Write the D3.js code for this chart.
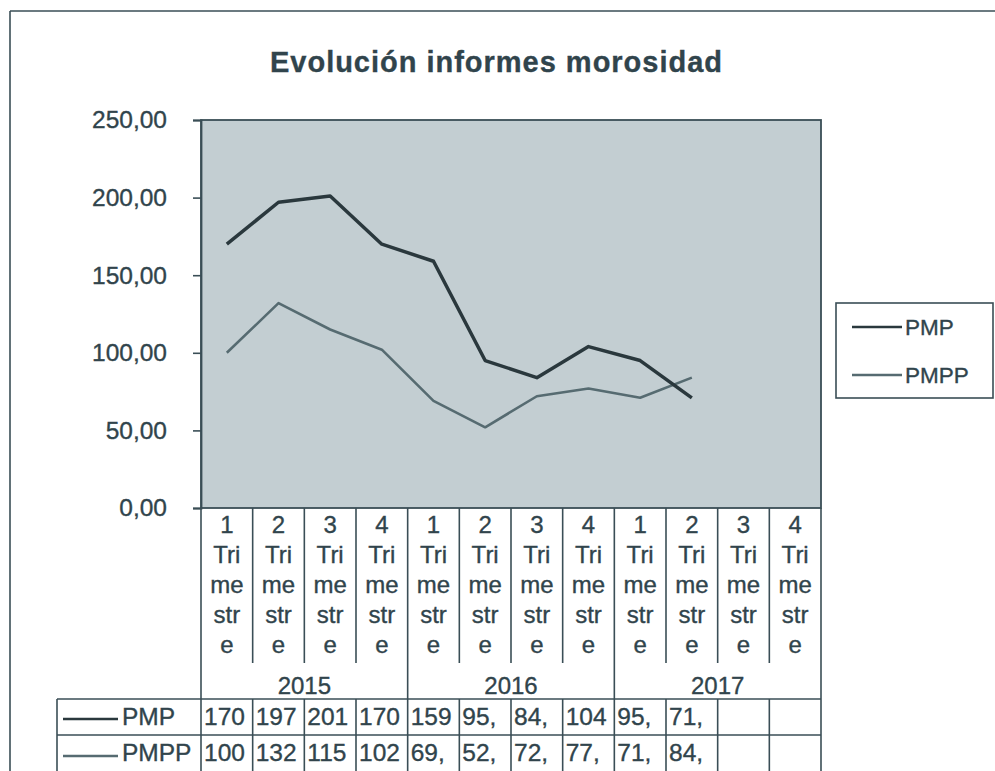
<!DOCTYPE html>
<html><head><meta charset="utf-8">
<script src="https://cdn.jsdelivr.net/npm/d3@7"></script>
<style>
html,body{margin:0;padding:0;background:#fff;}
svg{display:block;font-family:"Liberation Sans",Arial,sans-serif;}
svg text{stroke:#34464d;stroke-width:0.35px;}
</style></head>
<body>
<svg id="chart" width="995" height="771"></svg>
<script>
const title = "Evolución informes morosidad";
const quarters = ["1","2","3","4","1","2","3","4","1","2","3","4"];
const years = ["2015","2016","2017"];
const seriesNames = ["PMP","PMPP"];
const pmp  = [170,197,201,170,159,95,84,104,95,71];
const pmpp = [100,132,115,102,69,52,72,77,71,84];
const pmpLabels  = ["170","197","201","170","159","95,","84,","104","95,","71,","",""];
const pmppLabels = ["100","132","115","102","69,","52,","72,","77,","71,","84,","",""];
const yTicks = [0,50,100,150,200,250];

(function(){
const textCol = "#30444c", lineCol = "#3a4e56";
const svg = d3.select("#chart");

// outer frame
svg.append("line").attr("x1",10).attr("x2",10).attr("y1",11).attr("y2",771).attr("stroke",lineCol).attr("stroke-width",1.6);
svg.append("line").attr("x1",10).attr("x2",995).attr("y1",11).attr("y2",11).attr("stroke",lineCol).attr("stroke-width",1.6);

// title
svg.append("text").attr("x",496).attr("y",72).attr("text-anchor","middle")
  .attr("font-size",29).attr("font-weight","bold").attr("fill",textCol)
  .attr("textLength",452).attr("lengthAdjust","spacing").text(title);

const pL = 201, pR = 821, pT = 120, pB = 508;
const idx = d3.range(quarters.length);
const x = d3.scaleBand().domain(idx).range([pL,pR]);
const y = d3.scaleLinear().domain([0,250]).range([pB,pT]);

// plot area
svg.append("rect").attr("x",pL).attr("y",pT).attr("width",pR-pL).attr("height",pB-pT)
  .attr("fill","#c3ced2").attr("stroke",lineCol).attr("stroke-width",1.8);

// y axis
const yAxis = d3.axisLeft(y).tickValues(yTicks).tickSize(8).tickPadding(26)
  .tickFormat(d => d3.format(".2f")(d).replace(".",","));
const gy = svg.append("g").attr("transform",`translate(${pL},0)`).call(yAxis);
gy.select(".domain").attr("stroke",lineCol).attr("stroke-width",1.8);
gy.selectAll(".tick line").attr("stroke",lineCol).attr("stroke-width",1.6);
gy.selectAll(".tick text").attr("font-size",24.5).attr("fill",textCol).attr("font-family","Liberation Sans, Arial, sans-serif");

// lines
const line = d3.line().x((d,i)=>x(i)+x.bandwidth()/2).y(d=>y(d));
svg.append("path").datum(pmpp).attr("d",line).attr("fill","none").attr("stroke","#566b71").attr("stroke-width",2.6).attr("stroke-linejoin","round");
svg.append("path").datum(pmp).attr("d",line).attr("fill","none").attr("stroke","#2a383d").attr("stroke-width",3.5).attr("stroke-linejoin","round");

// category labels
const catLines = ["Tri","me","str","e"];
idx.forEach(i=>{
  const cx = x(i)+x.bandwidth()/2;
  const t = svg.append("text").attr("text-anchor","middle").attr("font-size",24).attr("fill",textCol);
  [quarters[i]].concat(catLines).forEach((s,k)=>{
    t.append("tspan").attr("x",cx).attr("y",533+k*30).text(s);
  });
});

// table grid
const g = svg.append("g").attr("stroke",lineCol).attr("stroke-width",1.6);
idx.forEach(i=>{
  if(i>0 && i%4!==0){
    g.append("line").attr("x1",x(i)).attr("x2",x(i)).attr("y1",pB).attr("y2",663);
    g.append("line").attr("x1",x(i)).attr("x2",x(i)).attr("y1",699).attr("y2",771);
  }
});
[0,4,8].forEach(i=>g.append("line").attr("x1",x(i)).attr("x2",x(i)).attr("y1",pB).attr("y2",771));
g.append("line").attr("x1",pR).attr("x2",pR).attr("y1",pB).attr("y2",771);
g.append("line").attr("x1",57).attr("x2",57).attr("y1",699).attr("y2",771);
g.append("line").attr("x1",57).attr("x2",pR).attr("y1",699).attr("y2",699);
g.append("line").attr("x1",57).attr("x2",pR).attr("y1",735).attr("y2",735);

// year labels
years.forEach((yr,j)=>{
  const cx = (x(j*4) + x(j*4+3)+x.bandwidth())/2;
  svg.append("text").attr("x",cx).attr("y",694).attr("text-anchor","middle").attr("font-size",24).attr("fill",textCol).text(yr);
});

// table rows
const rows = [{name:seriesNames[0],labels:pmpLabels,col:"#2a383d",yb:725,ly:719},
              {name:seriesNames[1],labels:pmppLabels,col:"#566b71",yb:761,ly:756}];
rows.forEach(r=>{
  svg.append("line").attr("x1",63).attr("x2",118).attr("y1",r.ly).attr("y2",r.ly).attr("stroke",r.col).attr("stroke-width",2.6);
  svg.append("text").attr("x",122).attr("y",r.yb).attr("font-size",24.5).attr("fill",textCol).text(r.name);
  r.labels.forEach((s,i)=>{
    svg.append("text").attr("x",x(i)+3).attr("y",r.yb).attr("font-size",24.5).attr("fill",textCol).text(s);
  });
});

// legend
const lg = svg.append("g");
lg.append("rect").attr("x",836).attr("y",303).attr("width",157).attr("height",95).attr("fill","#fff").attr("stroke",lineCol).attr("stroke-width",1.6);
[[seriesNames[0],"#2a383d",327],[seriesNames[1],"#566b71",375]].forEach(([n,c,yy])=>{
  lg.append("line").attr("x1",852).attr("x2",902).attr("y1",yy).attr("y2",yy).attr("stroke",c).attr("stroke-width",2.6);
  lg.append("text").attr("x",905).attr("y",yy+8).attr("font-size",22.5).attr("fill",textCol).text(n);
});
})();
</script>
</body></html>
